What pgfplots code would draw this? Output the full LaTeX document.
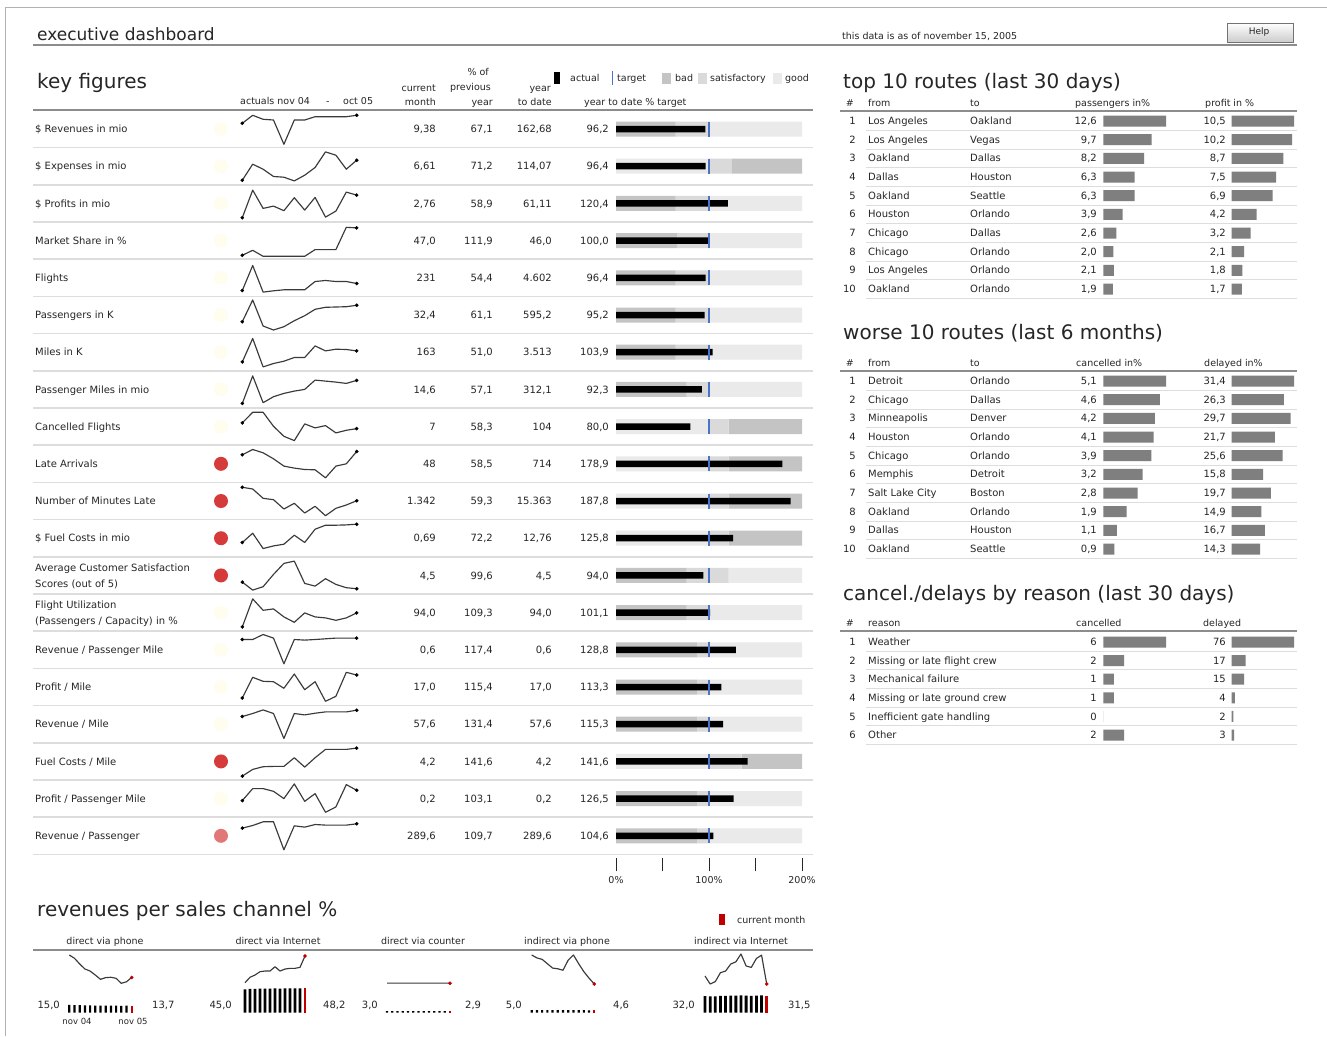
\documentclass[border=0pt]{standalone}
\usepackage{fontspec}
\setmainfont{DejaVu Sans}
\usepackage{pgfplots}
\usepackage{pgfplotstable}
\pgfplotsset{compat=1.18}
\definecolor{ink}{HTML}{262626}
\definecolor{rulec}{HTML}{8C8C8C}
\definecolor{sepc}{HTML}{DDDDDD}
\definecolor{bad}{HTML}{C4C4C4}
\definecolor{sat}{HTML}{DADADA}
\definecolor{good}{HTML}{EAEAEA}
\definecolor{tgt}{HTML}{4A74C9}
\definecolor{barg}{HTML}{7F7F7F}
\definecolor{spk}{HTML}{3A3A3A}
\definecolor{alert}{HTML}{D63B3B}
\definecolor{alertl}{HTML}{E07878}
\definecolor{okdot}{HTML}{FFFDEE}
\definecolor{cur}{HTML}{C00000}
\newcommand\fs{\fontsize{10}{12}\selectfont}
\newcommand\fh{\fontsize{9.5}{11}\selectfont}
\newcommand\fbig{\fontsize{20}{24}\selectfont}
\newcommand\TX[4][west]{\node[anchor=base #1,inner sep=0pt,font=\fs,text=ink] at (#2,#3+3.6) {#4};}
\newcommand\HX[4][west]{\node[anchor=base #1,inner sep=0pt,font=\fh,text=ink] at (#2,#3+3.4) {#4};}
\newcommand\HC[3]{\node[anchor=base,inner sep=0pt,font=\fh,text=ink] at (#1,#2+3.4) {#3};}
\newcommand\KF[6]{\TX{35}{#1}{#2}\TX[east]{436}{#1}{#3}\TX[east]{493}{#1}{#4}\TX[east]{552}{#1}{#5}\TX[east]{609}{#1}{#6}}
\newcommand\RT[6]{\TX[east]{856}{#1}{#2}\TX{868}{#1}{#3}\TX{970}{#1}{#4}\TX[east]{1097}{#1}{#5}\TX[east]{1226}{#1}{#6}}
\newcommand\TT[3]{\node[anchor=base west,inner sep=0pt,font=\fbig,text=black!85] at (#1,#2) {#3};}

\pgfplotstableread{
m r1 r2 r3 r4 r5 r6 r7 r8 r9 r10 r11 r12 r13 r14 r15 r16 r17 r18 r19 r20
0 23.7 4 3.7 3.3 5.3 11.3 8.3 4 21.7 27 31.7 13.7 11.3 3.7 28.3 7 25.7 3.3 16 25.7
1 31.7 20 31.3 8.3 30.3 33 31.7 31.5 32.3 32.3 30 23 3.3 31.7 28.3 27.7 28.7 10 28 28.3
2 27.7 15 13 2.3 3.7 7 3.3 4.7 32.3 29 20.7 7.7 6.7 20.3 33.3 23.7 32.3 12.7 28 32
3 27 7.7 15.3 2.3 5 3 6.7 10.7 18.3 23 19.3 10.3 19 21.7 29.7 23.3 28.7 13 25.3 32
4 2.7 7 10.7 2.3 6 6.3 9 14 8.3 15.7 10 12 30 13.7 4 16.7 3.7 13 18 4
5 27 3.3 23.7 2.3 6 12.3 12.7 16.3 4 13.7 15.7 21 32.3 8.3 28.3 31 28.7 21.7 32.7 28
6 27 9 11.3 2.3 6 17.3 12.7 18 20.7 12.3 6 13.7 10 17.7 27.7 15.3 27.3 12.3 15.3 26.7
7 30.3 16.7 24 9 14.3 23.7 24.3 27.3 16.7 12 12.7 27 7.3 13.7 28.3 23.3 29 21.7 23 29.3
8 30.3 32.3 4.3 9 15.3 25.7 19.3 26.3 19 4 3.3 31 14.7 12.7 29 3.7 30.3 30 4.3 28.7
9 30.3 29 10.3 9 14.3 26 21 25.3 11.7 15.7 10.7 31 9 10.3 29.7 8.7 30.3 30 9.7 28.7
10 30.3 15 29.3 31.3 14.3 26.3 20.7 24 14.3 18 14 31.3 5.7 12.7 29.7 32.7 30.3 30 32 28.7
11 31.7 24 26.3 30.7 12.3 27.7 19.3 27 16 30.3 18.3 32 4.7 17.7 29.7 30 32 31.3 26.3 30
}\sparks

\pgfplotstableread{
row A1 A2 A3 B1 B2 B3 act
0 64 36 100 0 0 0 96.2
1 0 0 0 100 24 76 96.4
2 64 36 100 0 0 0 120.4
3 66 34 100 0 0 0 100.0
4 64 36 100 0 0 0 96.4
5 64 36 100 0 0 0 95.2
6 64 36 100 0 0 0 103.9
7 76 24 100 0 0 0 92.3
8 0 0 0 100 21 79 80.0
9 0 0 0 100 21 79 178.9
10 0 0 0 100 21 79 187.8
11 0 0 0 100 21 79 125.8
12 76 45 79 0 0 0 94.0
13 76 24 100 0 0 0 101.1
14 87 13 100 0 0 0 128.8
15 87 13 100 0 0 0 113.3
16 87 13 100 0 0 0 115.3
17 0 0 0 100 35 65 141.6
18 87 13 100 0 0 0 126.5
19 87 13 100 0 0 0 104.6
}\bullets

\pgfplotstableread{
r pas prof
0 12.6 10.5
1 9.7 10.2
2 8.2 8.7
3 6.3 7.5
4 6.3 6.9
5 3.9 4.2
6 2.6 3.2
7 2.0 2.1
8 2.1 1.8
9 1.9 1.7
}\topten

\pgfplotstableread{
r can del
0 5.1 31.4
1 4.6 26.3
2 4.2 29.7
3 4.1 21.7
4 3.9 25.6
5 3.2 15.8
6 2.8 19.7
7 1.9 14.9
8 1.1 16.7
9 0.9 14.3
}\worse

\pgfplotstableread{
r can del
0 6 76
1 2 17
2 1 15
3 1 4
4 0 2
5 2 3
}\reason

\pgfplotstableread{
m phone inet counter iphone iinet
0 15.0 45.0 3.0 5.0 32.0
1 14.81 45.65 3.0 4.96 31.5
2 14.48 45.92 3.0 4.94 31.65
3 14.19 46.32 3.0 4.88 32.21
4 14.07 46.4 3.0 4.82 32.31
5 13.84 46.4 3.0 4.81 32.75
6 13.59 46.92 3.0 4.79 32.89
7 13.69 46.4 3.0 4.93 33.38
8 13.71 46.64 3.0 5.0 32.63
9 13.65 46.72 2.9 4.88 32.54
10 13.36 46.72 2.9 4.77 33.1
11 13.45 46.84 2.9 4.68 33.31
12 13.7 48.2 2.9 4.6 31.5
}\chans

\pgfplotsset{
 spark/.style={scale only axis,width=114.4pt,height=36pt,xmin=0,xmax=11,ymin=0,ymax=36,hide axis,clip=false,enlargelimits=false,anchor=south west},
 hb/.style={scale only axis,hide axis,clip=false,enlargelimits=false,xmin=0,y dir=reverse,anchor=north west,xbar,bar width=11pt},
 cspark/.style={scale only axis,hide axis,clip=false,enlargelimits=false,xmin=0,xmax=12,anchor=north west},
 cbar/.style={scale only axis,hide axis,clip=false,enlargelimits=false,xmin=0,xmax=12,ymin=0,ymax=50,height=26pt,anchor=south west},
 sline/.style={spk,line width=1.15pt,line join=round},
}

\begin{document}
\begin{tikzpicture}
\begin{scope}[x=1pt,y=-1pt]
\useasboundingbox (0,0) rectangle (1327,1036);
\fill[white] (0,0) rectangle (1327,1036);
\draw[black!30,line width=1pt] (5,1036) -- (5,7) -- (1327,7);
% header
\node[anchor=base west,inner sep=0pt,font=\fontsize{17}{20}\selectfont,text=black!85] at (37,40) {executive dashboard};
\draw[rulec,line width=1.2pt] (33,45) -- (1297,45);
\HX{842}{36}{this data is as of november 15, 2005}
\shade[top color=white,bottom color=black!20,draw=black!55] (1227,23) rectangle (1293,42);
\node[font=\fontsize{9}{10}\selectfont,text=ink] at (1259,32.5) {Help};
% titles
\TT{37}{88}{key figures}
\TT{843}{88}{top 10 routes (last 30 days)}
\TT{843}{339}{worse 10 routes (last 6 months)}
\TT{843}{600}{cancel./delays by reason (last 30 days)}
\TT{37}{916}{revenues per sales channel \%}
% key figures header
\HX{240}{101}{actuals nov 04}\HX{326}{101}{-}\HX{343}{101}{oct 05}
\HX[east]{436}{88}{current}\HX[east]{436}{102}{month}
\HX[east]{489}{72}{\% of}\HX[east]{491}{87}{previous}\HX[east]{493}{102}{year}
\HX[east]{551}{88}{year}\HX[east]{552}{102}{to date}
\fill[black] (554,72) rectangle (560,84);
\HX{570}{78}{actual}
\draw[tgt,line width=1pt] (612,71) -- (612,85);
\HX{617}{78}{target}
\fill[bad] (662,73) rectangle (671,84);\HX{675}{78}{bad}
\fill[sat] (698,73) rectangle (707,84);\HX{710}{78}{satisfactory}
\fill[good] (773,73) rectangle (782,84);\HX{785}{78}{good}
\HX{584}{102}{year to date \% target}
\draw[rulec,line width=1.2pt] (33,110) -- (813,110);
\foreach \i in {0,...,19} {\draw[sepc,line width=1.5pt] (33,{147.6+37.2*\i}) -- (813,{147.6+37.2*\i});}
% rows
\KF{129}{\$ Revenues in mio}{9,38}{67,1}{162,68}{96,2}
\KF{166.2}{\$ Expenses in mio}{6,61}{71,2}{114,07}{96,4}
\KF{203.4}{\$ Profits in mio}{2,76}{58,9}{61,11}{120,4}
\KF{240.6}{Market Share in \%}{47,0}{111,9}{46,0}{100,0}
\KF{277.8}{Flights}{231}{54,4}{4.602}{96,4}
\KF{315}{Passengers in K}{32,4}{61,1}{595,2}{95,2}
\KF{352.2}{Miles in K}{163}{51,0}{3.513}{103,9}
\KF{389.4}{Passenger Miles in mio}{14,6}{57,1}{312,1}{92,3}
\KF{426.6}{Cancelled Flights}{7}{58,3}{104}{80,0}
\KF{463.8}{Late Arrivals}{48}{58,5}{714}{178,9}
\KF{501}{Number of Minutes Late}{1.342}{59,3}{15.363}{187,8}
\KF{538.2}{\$ Fuel Costs in mio}{0,69}{72,2}{12,76}{125,8}
\KF{575.4}{}{4,5}{99,6}{4,5}{94,0}
\TX{35}{567.5}{Average Customer Satisfaction}\TX{35}{583.5}{Scores (out of 5)}
\KF{612.6}{}{94,0}{109,3}{94,0}{101,1}
\TX{35}{605}{Flight Utilization}\TX{35}{621}{(Passengers / Capacity) in \%}
\KF{649.8}{Revenue / Passenger Mile}{0,6}{117,4}{0,6}{128,8}
\KF{687}{Profit / Mile}{17,0}{115,4}{17,0}{113,3}
\KF{724.2}{Revenue / Mile}{57,6}{131,4}{57,6}{115,3}
\KF{761.4}{Fuel Costs / Mile}{4,2}{141,6}{4,2}{141,6}
\KF{798.6}{Profit / Passenger Mile}{0,2}{103,1}{0,2}{126,5}
\KF{835.8}{Revenue / Passenger}{289,6}{109,7}{289,6}{104,6}
\foreach \i in {1,...,9,14,15,16,17,19} {\fill[okdot] (221,{129+37.2*(\i-1)}) circle (7);}
\foreach \i in {10,11,12,13,18} {\fill[alert] (221,{129+37.2*(\i-1)}) circle (7);}
\fill[alertl] (221,835.8) circle (7);
% right tables
\HX[east]{854}{103}{\#}\HX{868}{103}{from}\HX{970}{103}{to}\HX{1075}{103}{passengers in\%}\HX{1205}{103}{profit in \%}
\draw[rulec,line width=1.2pt] (840,111) -- (1297,111);
\foreach \k in {0,...,9} {\draw[sepc,line width=1pt] (866,{130.33+18.67*\k}) -- (1297,{130.33+18.67*\k});}
\RT{121}{1}{Los Angeles}{Oakland}{12,6}{10,5}
\RT{139.7}{2}{Los Angeles}{Vegas}{9,7}{10,2}
\RT{158.3}{3}{Oakland}{Dallas}{8,2}{8,7}
\RT{177}{4}{Dallas}{Houston}{6,3}{7,5}
\RT{195.7}{5}{Oakland}{Seattle}{6,3}{6,9}
\RT{214.3}{6}{Houston}{Orlando}{3,9}{4,2}
\RT{233}{7}{Chicago}{Dallas}{2,6}{3,2}
\RT{251.7}{8}{Chicago}{Orlando}{2,0}{2,1}
\RT{270.3}{9}{Los Angeles}{Orlando}{2,1}{1,8}
\RT{289}{10}{Oakland}{Orlando}{1,9}{1,7}
\HX[east]{854}{363}{\#}\HX{868}{363}{from}\HX{970}{363}{to}\HX{1076}{363}{cancelled in\%}\HX{1204}{363}{delayed in\%}
\draw[rulec,line width=1.2pt] (840,371) -- (1297,371);
\foreach \k in {0,...,9} {\draw[sepc,line width=1pt] (866,{390.33+18.67*\k}) -- (1297,{390.33+18.67*\k});}
\RT{381}{1}{Detroit}{Orlando}{5,1}{31,4}
\RT{399.7}{2}{Chicago}{Dallas}{4,6}{26,3}
\RT{418.3}{3}{Minneapolis}{Denver}{4,2}{29,7}
\RT{437}{4}{Houston}{Orlando}{4,1}{21,7}
\RT{455.7}{5}{Chicago}{Orlando}{3,9}{25,6}
\RT{474.3}{6}{Memphis}{Detroit}{3,2}{15,8}
\RT{493}{7}{Salt Lake City}{Boston}{2,8}{19,7}
\RT{511.7}{8}{Oakland}{Orlando}{1,9}{14,9}
\RT{530.3}{9}{Dallas}{Houston}{1,1}{16,7}
\RT{549}{10}{Oakland}{Seattle}{0,9}{14,3}
\HX[east]{854}{623}{\#}\HX{868}{623}{reason}\HX{1076}{623}{cancelled}\HX{1203}{623}{delayed}
\draw[rulec,line width=1.2pt] (840,631) -- (1297,631);
\foreach \k in {0,...,5} {\draw[sepc,line width=1pt] (866,{651.3+18.6*\k}) -- (1297,{651.3+18.6*\k});}
\RT{642}{1}{Weather}{}{6}{76}
\RT{660.6}{2}{Missing or late flight crew}{}{2}{17}
\RT{679.2}{3}{Mechanical failure}{}{1}{15}
\RT{697.8}{4}{Missing or late ground crew}{}{1}{4}
\RT{716.4}{5}{Inefficient gate handling}{}{0}{2}
\RT{735}{6}{Other}{}{2}{3}
% channels
\fill[cur] (719,914) rectangle (725,925);\HX{737}{920}{current month}
\HC{105}{941}{direct via phone}\HC{278}{941}{direct via Internet}\HC{423}{941}{direct via counter}\HC{567}{941}{indirect via phone}\HC{741}{941}{indirect via Internet}
\draw[rulec,line width=1.2pt] (33,950) -- (813,950);
\TX[east]{60}{1005}{15,0}\TX{152}{1005}{13,7}
\TX[east]{232}{1005}{45,0}\TX{323}{1005}{48,2}
\TX[east]{378}{1005}{3,0}\TX{465}{1005}{2,9}
\TX[east]{522}{1005}{5,0}\TX{613}{1005}{4,6}
\TX[east]{695}{1005}{32,0}\TX{788}{1005}{31,5}
\node[anchor=base,inner sep=0pt,font=\fontsize{8.5}{10}\selectfont,text=ink] at (77,1024) {nov 04};
\node[anchor=base,inner sep=0pt,font=\fontsize{8.5}{10}\selectfont,text=ink] at (133,1024) {nov 05};
\end{scope}

% sparklines
\pgfplotsinvokeforeach{1,...,20}{
\pgfmathsetmacro\yb{147+37.2*(#1-1)}
\begin{axis}[spark,at={(242.3pt,-\yb pt)}]
\addplot[sline] table[x=m,y=r#1]{\sparks};
\addplot[only marks,mark=*,mark size=1.6pt,mark options={fill=black,draw=black},skip coords between index={1}{11}] table[x=m,y=r#1]{\sparks};
\end{axis}}

% bullet graphs
\begin{axis}[at={(616pt,-110.4pt)},anchor=north west,scale only axis,width=186pt,height=744pt,
 xmin=0,xmax=200,ymin=-0.5,ymax=19.5,y dir=reverse,hide axis,clip=false,enlargelimits=false,
 xbar stacked,bar width=15pt]
\addplot[fill=bad,draw=none] table[x=A1,y=row]{\bullets};
\addplot[fill=sat,draw=none] table[x=A2,y=row]{\bullets};
\addplot[fill=good,draw=none] table[x=A3,y=row]{\bullets};
\addplot[fill=good,draw=none] table[x=B1,y=row]{\bullets};
\addplot[fill=sat,draw=none] table[x=B2,y=row]{\bullets};
\addplot[fill=bad,draw=none] table[x=B3,y=row]{\bullets};
\end{axis}
\begin{axis}[at={(616pt,-110.4pt)},anchor=north west,scale only axis,width=186pt,height=744pt,
 xmin=0,xmax=200,ymin=-0.5,ymax=19.5,y dir=reverse,hide axis,clip=false,enlargelimits=false]
\addplot[xbar,bar width=6.5pt,fill=black,draw=none] table[x=act,y=row]{\bullets};
\addplot[only marks,mark=|,mark size=7.5pt,mark options={draw=tgt,line width=1.6pt}] table[x expr=100,y=row]{\bullets};
\end{axis}
\begin{axis}[at={(616pt,-871pt)},anchor=south west,scale only axis,width=186pt,height=14pt,
 xmin=0,xmax=200,ymin=0,ymax=1,hide y axis,axis x line*=bottom,x axis line style={draw=none},
 xtick={0,50,100,150,200},xticklabels={0\%,,100\%,,200\%},tick align=inside,major tick length=13pt,
 tick style={ink,line width=0.8pt},xticklabel style={font=\fh,text=ink,yshift=-2pt},enlargelimits=false]
\addplot[draw=none] coordinates {(0,0) (200,0)};
\end{axis}

% right bar columns
\begin{axis}[hb,at={(1103.3pt,-111.67pt)},width=62.7pt,height=186.7pt,xmax=12.6,ymin=-0.5,ymax=9.5]
\addplot[fill=barg,draw=none] table[x=pas,y=r]{\topten};
\end{axis}
\begin{axis}[hb,at={(1231.7pt,-111.67pt)},width=62.3pt,height=186.7pt,xmax=10.5,ymin=-0.5,ymax=9.5]
\addplot[fill=barg,draw=none] table[x=prof,y=r]{\topten};
\end{axis}
\begin{axis}[hb,at={(1103.3pt,-371.67pt)},width=62.7pt,height=186.7pt,xmax=5.1,ymin=-0.5,ymax=9.5]
\addplot[fill=barg,draw=none] table[x=can,y=r]{\worse};
\end{axis}
\begin{axis}[hb,at={(1231.7pt,-371.67pt)},width=62.3pt,height=186.7pt,xmax=31.4,ymin=-0.5,ymax=9.5]
\addplot[fill=barg,draw=none] table[x=del,y=r]{\worse};
\end{axis}
\begin{axis}[hb,at={(1103.3pt,-632.7pt)},width=62.7pt,height=111.6pt,xmax=6,ymin=-0.5,ymax=5.5]
\addplot[fill=barg,draw=none] table[x=can,y=r]{\reason};
\end{axis}
\begin{axis}[hb,at={(1231.7pt,-632.7pt)},width=62.3pt,height=111.6pt,xmax=76,ymin=-0.5,ymax=5.5]
\addplot[fill=barg,draw=none] table[x=del,y=r]{\reason};
\end{axis}

% channel sparklines
\begin{axis}[cspark,at={(69.3pt,-955pt)},width=62.4pt,height=28.3pt,ymin=13.36,ymax=15]
\addplot[sline] table[x=m,y=phone]{\chans};
\addplot[only marks,mark=*,mark size=1.6pt,mark options={fill=cur,draw=cur},skip coords between index={0}{12}] table[x=m,y=phone]{\chans};
\end{axis}
\begin{axis}[cspark,at={(245pt,-956pt)},width=60pt,height=26.7pt,ymin=45,ymax=48.2]
\addplot[sline] table[x=m,y=inet]{\chans};
\addplot[only marks,mark=*,mark size=1.6pt,mark options={fill=cur,draw=cur},skip coords between index={0}{12}] table[x=m,y=inet]{\chans};
\end{axis}
\begin{axis}[cspark,at={(387pt,-955pt)},width=63pt,height=29pt,ymin=0,ymax=100]
\addplot[sline] table[x=m,y=counter]{\chans};
\addplot[only marks,mark=*,mark size=1.6pt,mark options={fill=cur,draw=cur},skip coords between index={0}{12}] table[x=m,y=counter]{\chans};
\end{axis}
\begin{axis}[cspark,at={(531.7pt,-955pt)},width=62.6pt,height=29pt,ymin=4.6,ymax=5.0]
\addplot[sline] table[x=m,y=iphone]{\chans};
\addplot[only marks,mark=*,mark size=1.6pt,mark options={fill=cur,draw=cur},skip coords between index={0}{12}] table[x=m,y=iphone]{\chans};
\end{axis}
\begin{axis}[cspark,at={(705pt,-954pt)},width=61.7pt,height=30pt,ymin=31.5,ymax=33.38]
\addplot[sline] table[x=m,y=iinet]{\chans};
\addplot[only marks,mark=*,mark size=1.6pt,mark options={fill=cur,draw=cur},skip coords between index={0}{12}] table[x=m,y=iinet]{\chans};
\end{axis}

% channel bars
\begin{axis}[cbar,at={(69.3pt,-1012.7pt)},width=62.4pt]
\addplot[ybar,bar width=2.2pt,fill=black,draw=none,skip coords between index={12}{13}] table[x=m,y=phone]{\chans};
\addplot[ybar,bar width=2.2pt,fill=cur,draw=none,skip coords between index={0}{12}] table[x=m,y=phone]{\chans};
\end{axis}
\begin{axis}[cbar,at={(245pt,-1012.7pt)},width=60pt]
\addplot[ybar,bar width=2.8pt,fill=black,draw=none,skip coords between index={12}{13}] table[x=m,y=inet]{\chans};
\addplot[ybar,bar width=2.8pt,fill=cur,draw=none,skip coords between index={0}{12}] table[x=m,y=inet]{\chans};
\end{axis}
\begin{axis}[cbar,at={(387pt,-1012.7pt)},width=63pt]
\addplot[ybar,bar width=2.2pt,fill=black,draw=none,skip coords between index={12}{13}] table[x=m,y=counter]{\chans};
\addplot[ybar,bar width=2.2pt,fill=cur,draw=none,skip coords between index={0}{12}] table[x=m,y=counter]{\chans};
\end{axis}
\begin{axis}[cbar,at={(531.7pt,-1012.7pt)},width=62.6pt]
\addplot[ybar,bar width=2.2pt,fill=black,draw=none,skip coords between index={12}{13}] table[x=m,y=iphone]{\chans};
\addplot[ybar,bar width=2.2pt,fill=cur,draw=none,skip coords between index={0}{12}] table[x=m,y=iphone]{\chans};
\end{axis}
\begin{axis}[cbar,at={(705pt,-1012.7pt)},width=61.7pt]
\addplot[ybar,bar width=2.8pt,fill=black,draw=none,skip coords between index={12}{13}] table[x=m,y=iinet]{\chans};
\addplot[ybar,bar width=2.8pt,fill=cur,draw=none,skip coords between index={0}{12}] table[x=m,y=iinet]{\chans};
\end{axis}
\end{tikzpicture}
\end{document}
